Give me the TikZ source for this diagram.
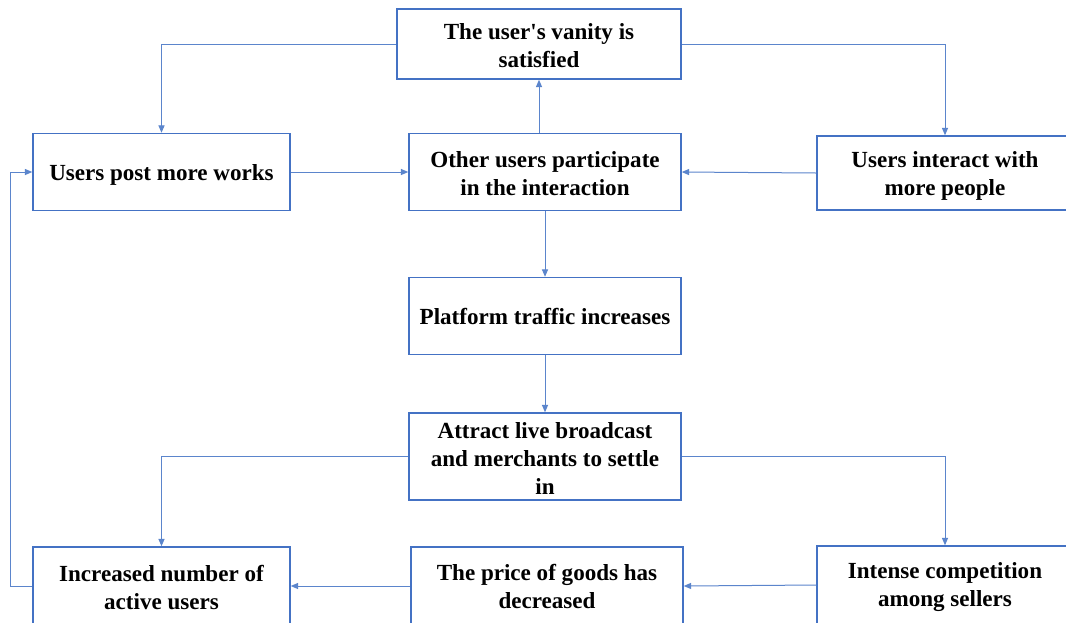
\documentclass[tikz,border=0pt]{standalone}
\usepackage{fontspec}
\setmainfont{Liberation Serif}
\usetikzlibrary{arrows.meta}
\definecolor{boxblue}{HTML}{4472C4}
\definecolor{lineblue}{HTML}{5B85CC}
\begin{document}
\begin{tikzpicture}[x=0.75pt,y=-0.75pt,
  box/.style={draw=boxblue,line width=1.1pt,fill=white,inner sep=0pt},
  txt/.style={inner sep=0pt,align=center,font=\fontsize{17.3}{21}\selectfont\bfseries},
  conn/.style={draw=lineblue,line width=0.75pt,-{Triangle[length=5.5pt,width=4.5pt]}}]
\clip (0,0) rectangle (1066,622);
\useasboundingbox (0,0) rectangle (1066,622);
\fill[white] (0,0) rectangle (1066,622);
% boxes
\node[box,minimum width=213pt,minimum height=52.5pt] (vanity) at (539,44) {};
\node[box,minimum width=192.75pt,minimum height=57.75pt] (post) at (161.5,172) {};
\node[box,minimum width=204pt,minimum height=57.75pt] (other) at (545,172) {};
\node[box,minimum width=192pt,minimum height=55.5pt] (interact) at (945,173) {};
\node[box,minimum width=204pt,minimum height=57.75pt] (traffic) at (545,316) {};
\node[box,minimum width=204pt,minimum height=65.25pt] (attract) at (545,456.5) {};
\node[box,minimum width=192.75pt,minimum height=58.5pt] (increased) at (161.5,586) {};
\node[box,minimum width=204pt,minimum height=58.5pt] (price) at (547,586) {};
\node[box,minimum width=192pt,minimum height=58.5pt] (intense) at (945,585) {};
% texts
\node[txt] (tvanity) at ([yshift=-1.5pt]vanity.center) {The user\textquotesingle s vanity is\\satisfied};
\node[txt] (tpost) at ([yshift=-2.25pt]post.center) {Users post more works};
\node[txt] (tother) at ([yshift=-1.5pt]other.center) {Other users participate\\in the interaction};
\node[txt] (tinteract) at ([yshift=-2.25pt]interact.center) {Users interact with\\more people};
\node[txt] (ttraffic) at (traffic.center) {Platform traffic increases};
\node[txt] (tattract) at ([yshift=-1.5pt]attract.center) {Attract live broadcast\\and merchants to settle\\in};
\node[txt] (tincreased) at ([yshift=-1.5pt]increased.center) {Increased number of\\active users};
\node[txt] (tprice) at (price.center) {The price of goods has\\decreased};
\node[txt] (tintense) at ([yshift=-1.5pt]intense.center) {Intense competition\\among sellers};
% connectors
\draw[conn] (vanity.west) -| (post.north);
\draw[conn] (vanity.east) -| (interact.north);
\draw[conn] (post.east) -- (other.west |- post.east);
\draw[conn] (interact.west) -- (other.east);
\draw[conn] (vanity.south |- other.north) -- (vanity.south);
\draw[conn] (other.south) -- (traffic.north);
\draw[conn] (traffic.south) -- (attract.north);
\draw[conn] (attract.west) -| (increased.north);
\draw[conn] (attract.east) -| (intense.north);
\draw[conn] (intense.west) -- (price.east);
\draw[conn] (price.west) -- (increased.east);
\coordinate (loop) at (10,586);
\draw[conn] (increased.west) -- (loop) |- (post.west);
\end{tikzpicture}
\end{document}
